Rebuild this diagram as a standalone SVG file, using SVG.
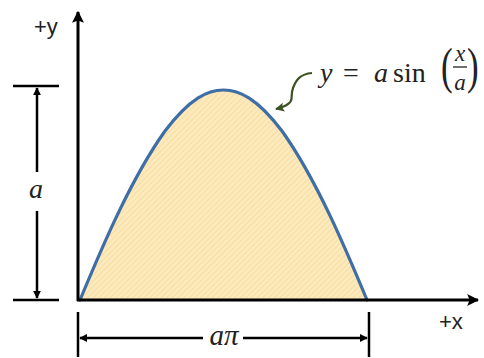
<svg xmlns="http://www.w3.org/2000/svg" width="484" height="358" viewBox="0 0 484 358">
<defs>
<pattern id="hatch" width="4" height="4" patternUnits="userSpaceOnUse" patternTransform="rotate(45)">
<rect width="4" height="4" fill="#FCE9BC"/>
<line x1="0" y1="0" x2="0" y2="4" stroke="#F6D996" stroke-width="1.4"/>
</pattern>
<marker id="ah" viewBox="0 0 10 10" refX="9" refY="5" markerWidth="8" markerHeight="8" markerUnits="userSpaceOnUse" orient="auto-start-reverse">
<path d="M0,0 L10,5 L0,10 Z" fill="#000"/>
</marker>
<marker id="big" viewBox="0 0 10 10" refX="9" refY="5" markerWidth="12" markerHeight="12" markerUnits="userSpaceOnUse" orient="auto">
<path d="M0,0 L10,5 L0,10 L2,5 Z" fill="#000"/>
</marker>
<marker id="green" viewBox="0 0 10 10" refX="9" refY="5" markerWidth="9" markerHeight="9" markerUnits="userSpaceOnUse" orient="auto">
<path d="M0,0 L10,5 L0,10 L2,5 Z" fill="#3B5323"/>
</marker>
<style>
.ax{stroke:#000;stroke-width:3;fill:none}
.dim{stroke:#000;stroke-width:2.5;fill:none}
.lab{font-family:"Liberation Sans",Arial,sans-serif;fill:#222}
.math{font-family:"Liberation Serif","Times New Roman",serif;fill:#222}
.it{font-style:italic}
</style>
</defs>
<rect width="484" height="358" fill="#fff"/>
<g id="area">
<path d="M80,300 L94.35,266.3 L108.7,234.4 L123.05,204.1 L137.4,176.2 L151.75,151.2 L166.1,129.9 L180.45,112.8 L194.8,100.2 L209.15,92.6 L223.5,90 L237.85,92.6 L252.2,100.2 L266.55,112.8 L280.9,129.9 L295.25,151.2 L309.6,176.2 L323.95,204.1 L338.3,234.4 L352.65,266.3 L367,300 Z" fill="url(#hatch)"/>
<path d="M80,300 C100,252 130,180 165,131 C190,98 208,90 223.5,90 C239,90 257,98 282,131 C317,180 347,252 367,300" fill="none" stroke="#3F6EA6" stroke-width="3.2" stroke-linecap="round"/>
</g>
<g id="axes">
<line class="ax" x1="78" y1="301" x2="78" y2="12" marker-end="url(#big)"/>
<line class="ax" x1="77" y1="300" x2="478" y2="300" marker-end="url(#big)"/>
<text class="lab" x="34" y="34" font-size="22">+y</text>
<text class="lab" x="439" y="329" font-size="22">+x</text>
</g>
<g id="dim-a">
<line class="dim" x1="13" y1="86" x2="59" y2="86"/>
<line class="dim" x1="13" y1="300" x2="59" y2="300"/>
<line class="dim" x1="37" y1="172" x2="37" y2="88" marker-end="url(#ah)"/>
<line class="dim" x1="37" y1="211" x2="37" y2="298" marker-end="url(#ah)"/>
<text class="math it" x="36" y="198" text-anchor="middle" font-size="28">a</text>
</g>
<g id="dim-api">
<line class="dim" x1="78" y1="312" x2="78" y2="357"/>
<line class="dim" x1="369" y1="312" x2="369" y2="357"/>
<line class="dim" x1="203" y1="338" x2="80" y2="338" marker-end="url(#ah)"/>
<line class="dim" x1="243" y1="338" x2="367" y2="338" marker-end="url(#ah)"/>
<text class="math it" x="224" y="345" text-anchor="middle" font-size="29">aπ</text>
</g>
<g id="equation">
<path d="M312,73 C300,74 296,80 293,88 C290,96 294,100 288,104 C284,107 280,108 276,109" fill="none" stroke="#3B5323" stroke-width="2.2" marker-end="url(#green)"/>
<text class="math" y="82" font-size="28"><tspan class="it" x="320">y</tspan><tspan x="343">=</tspan><tspan class="it" x="374">a</tspan><tspan x="393">sin</tspan></text>
<text class="math" font-size="50" transform="translate(441,83) scale(0.7,1)">(</text>
<text class="math" font-size="50" transform="translate(467,83) scale(0.7,1)">)</text>
<text class="math it" x="460" y="61" text-anchor="middle" font-size="23">x</text>
<line x1="453" y1="67" x2="467" y2="67" stroke="#222" stroke-width="1.3"/>
<text class="math it" x="460" y="90" text-anchor="middle" font-size="23">a</text>
</g>
</svg>
